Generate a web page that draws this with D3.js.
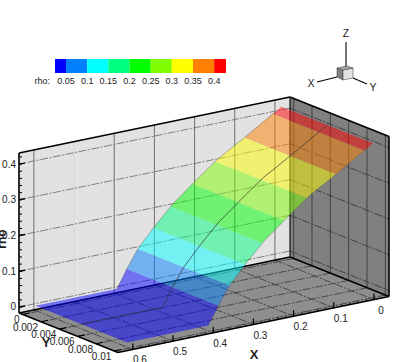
<!DOCTYPE html>
<html>
<head>
<meta charset="utf-8">
<script src="https://cdn.jsdelivr.net/npm/d3@7"></script>
<style>
  html, body { margin: 0; padding: 0; background: #fff; overflow: hidden; }
  text { font-family: "Liberation Sans", Arial, sans-serif; fill: #222; }
</style>
</head>
<body>
<div id="chart"></div>
<script>
// surface profile, rho does not change along y
const profileX = [-0.007, 0.01, 0.085, 0.152, 0.197, 0.264, 0.308, 0.351, 0.378, 0.39, 0.403, 0.5, 0.605];
const profileRho = [0.415, 0.403, 0.35, 0.305, 0.266, 0.205, 0.154, 0.099, 0.05, 0.025, 0, 0, 0];
const surfaceY = [0, 0.01];

const levels = [0, 0.05, 0.1, 0.15, 0.2, 0.25, 0.3, 0.35, 0.4, 0.45];
const levelColors = ["#0000ff", "#0080ff", "#00ffff", "#00ff80", "#00ff00", "#80ff00", "#ffff00", "#ff8000", "#ff0000"];
const legendTicks = [0.05, 0.1, 0.15, 0.2, 0.25, 0.3, 0.35, 0.4];

const xTicks = [0, 0.1, 0.2, 0.3, 0.4, 0.5, 0.6];
const yTicks = [0, 0.002, 0.004, 0.006, 0.008, 0.01];
const zTicks = [0, 0.1, 0.2, 0.3, 0.4];
const xMinorTicks = d3.range(0, 0.62, 0.02);
const zMinorTicks = d3.range(0, 0.43, 0.02);

const width = 407, height = 362;
const corner = {x: 290, y: 257};   // back corner of the floor
const xDomain = [-0.0375, 0.637], yDomain = [-0.0004, 0.0104], zDomain = [-0.0168, 0.431];
const gridDash = "8,1.5,2,1.5";

// three scales are enough, the view has almost no perspective
let xToLeft = d3.scaleLinear().domain(xDomain).range([0, -271]);
let xToDown = d3.scaleLinear().domain(xDomain).range([0, 56]);
let yToRight = d3.scaleLinear().domain(yDomain).range([0, 99]);
let yToDown = d3.scaleLinear().domain(yDomain).range([0, 39.5]);
let zToUp = d3.scaleLinear().domain(zDomain).range([0, -160]);

function project(x, y, z) {
    return [corner.x + xToLeft(x) + yToRight(y), corner.y + xToDown(x) + yToDown(y) + zToUp(z)];
}

let path3d = d3.line().x(d => d[0]).y(d => d[1]);

let svg = d3.select("#chart")
    .append("svg")
    .attr("width", width)
    .attr("height", height);

function face(pts, fill) {
    svg.append("path")
        .attr("d", path3d(pts.map(p => project(p[0], p[1], p[2]))) + "Z")
        .attr("fill", fill);
}

function segments(data, from, to, stroke, strokeWidth, dash) {
    svg.append("g")
        .selectAll("line")
        .data(data)
        .enter()
        .append("line")
        .attr("x1", d => from(d)[0])
        .attr("y1", d => from(d)[1])
        .attr("x2", d => to(d)[0])
        .attr("y2", d => to(d)[1])
        .attr("stroke", stroke)
        .attr("stroke-width", strokeWidth)
        .attr("stroke-dasharray", dash || null);
}

const [x0, x1] = xDomain, [y0, y1] = yDomain, [z0, z1] = zDomain;

// walls and floor
face([[x0, y0, z0], [x1, y0, z0], [x1, y0, z1], [x0, y0, z1]], "#e2e2e2");
face([[x0, y0, z0], [x0, y1, z0], [x0, y1, z1], [x0, y0, z1]], "#808080");
face([[x0, y0, z0], [x1, y0, z0], [x1, y1, z0], [x0, y1, z0]], "#8e8e8e");

// grid on the back wall
segments(xTicks.filter(d => d != 0.5), d => project(d, y0, z0), d => project(d, y0, z1), "#6e6e6e", 1);
segments([0.5], d => project(d, y0, z0), d => project(d, y0, z1), "#d6d6d6", 1);
segments(zTicks, d => project(x0, y0, d), d => project(x1, y0, d), "#808080", 1, gridDash);

// grid on the right wall
segments(yTicks, d => project(x0, d, z0), d => project(x0, d, z1), "#404040", 1);
segments(zTicks, d => project(x0, y0, d), d => project(x0, y1, d), "#404040", 1, gridDash);

// grid on the floor
segments(xTicks, d => project(d, y0, z0), d => project(d, y1, z0), "#4a4a4a", 1, gridDash);
segments(yTicks, d => project(x0, d, z0), d => project(x1, d, z0), "#4a4a4a", 1, gridDash);

// box edges behind the surface
let boxEdges = [
    [[x1, y0, z0], [x0, y0, z0]],
    [[x0, y0, z0], [x0, y1, z0]],
    [[x1, y0, z1], [x0, y0, z1]],
    [[x0, y0, z1], [x0, y1, z1]],
    [[x1, y0, z0], [x1, y0, z1]],
    [[x0, y1, z0], [x0, y1, z1]]
];
segments(boxEdges, d => project(...d[0]), d => project(...d[1]), "#000", 1.6);
segments([x0], d => project(d, y0, z0), d => project(d, y0, z1), "#111", 1.2);

// coloured bands of the surface
let rhoAt = d3.scaleLinear().domain(profileX).range(profileRho);
const footIndex = profileRho.indexOf(0);
let xOfRho = d3.scaleLinear()
    .domain(profileRho.slice(0, footIndex + 1))
    .range(profileX.slice(0, footIndex + 1));

function bandXs(lo, hi) {
    let xs = profileX.filter((x, i) => profileRho[i] >= lo && profileRho[i] <= hi);
    if (lo <= profileRho[0]) xs.push(xOfRho(lo));
    if (hi <= profileRho[0]) xs.push(xOfRho(hi));
    return Array.from(new Set(xs)).sort(d3.ascending);
}

let bands = levelColors.map((c, i) => ({color: c, xs: bandXs(levels[i], levels[i + 1])}));

svg.append("g")
    .selectAll("path")
    .data(bands)
    .enter()
    .append("path")
    .attr("d", d => {
        let front = d.xs.map(x => project(x, surfaceY[0], rhoAt(x)));
        let back = d.xs.slice().reverse().map(x => project(x, surfaceY[1], rhoAt(x)));
        return path3d(front.concat(back)) + "Z";
    })
    .attr("fill", d => d.color)
    .attr("fill-opacity", 0.5);

// thin mesh lines on the surface
[surfaceY[0], surfaceY[1]].forEach(y => {
    svg.append("path")
        .attr("d", path3d(profileX.slice(1, footIndex + 1).map(x => project(x, y, rhoAt(x)))))
        .attr("fill", "none")
        .attr("stroke", "#555")
        .attr("stroke-opacity", 0.6)
        .attr("stroke-width", 0.7);
});
svg.append("path")
    .attr("d", path3d(profileX.map(x => project(x, (surfaceY[0] + surfaceY[1]) / 2, rhoAt(x)))))
    .attr("fill", "none")
    .attr("stroke", "#333")
    .attr("stroke-width", 0.7);

// axis edges in front of it
let frontEdges = [
    [[x0, y1, z0], [x1, y1, z0]],
    [[x1, y0, z0], [x1, y1, z0]]
];
segments(frontEdges, d => project(...d[0]), d => project(...d[1]), "#000", 1.5);

// ticks, z on the left edge of the back wall
segments(zTicks, d => project(x1, y0, d), d => {
    let p = project(x1, y0, d);
    return [p[0] + 6, p[1] - 1];
}, "#000", 1.4);
segments(zMinorTicks, d => project(x1, y0, d), d => {
    let p = project(x1, y0, d);
    return [p[0] + 3, p[1]];
}, "#000", 1);

segments(xTicks, d => project(d, y1, z0), d => {
    let p = project(d, y1, z0);
    return [p[0], p[1] - 6];
}, "#000", 1.2);
segments(xMinorTicks, d => project(d, y1, z0), d => {
    let p = project(d, y1, z0);
    return [p[0], p[1] - 2];
}, "#000", 0.8);

segments(yTicks, d => project(x1, d, z0), d => {
    let p = project(x1, d, z0);
    return [p[0] + 7, p[1] - 1.5];
}, "#000", 1.2);

// tick labels
svg.append("g")
    .selectAll("text")
    .data(zTicks)
    .enter()
    .append("text")
    .attr("x", d => project(x1, y0, d)[0] - 3)
    .attr("y", d => project(x1, y0, d)[1] + 3.5)
    .attr("text-anchor", "end")
    .style("font-size", "10px")
    .text(d => d);

svg.append("g")
    .selectAll("text")
    .data(xTicks)
    .enter()
    .append("text")
    .attr("x", d => project(d, y1, z0)[0] + 7)
    .attr("y", d => project(d, y1, z0)[1] + 14)
    .attr("text-anchor", "middle")
    .style("font-size", "10px")
    .text(d => d);

svg.append("g")
    .selectAll("text")
    .data(yTicks)
    .enter()
    .append("text")
    .attr("x", d => project(x1, d, z0)[0] - 3)
    .attr("y", d => project(x1, d, z0)[1] + 9)
    .attr("text-anchor", "end")
    .style("font-size", "10px")
    .text(d => d);

// axis titles
svg.append("text")
    .attr("x", 254)
    .attr("y", 359)
    .attr("text-anchor", "middle")
    .style("font-size", "13px")
    .style("font-weight", "bold")
    .text("X");

svg.append("text")
    .attr("x", 46)
    .attr("y", 347)
    .attr("text-anchor", "middle")
    .style("font-size", "13px")
    .style("font-weight", "bold")
    .text("Y");

svg.append("text")
    .attr("transform", "translate(6, 239) rotate(-90)")
    .attr("text-anchor", "middle")
    .style("font-size", "12px")
    .style("font-weight", "bold")
    .text("rho");

// contour legend
let legendX = d3.scaleLinear().domain([0.024, 0.428]).range([55, 226]);
let legendBands = levelColors.map((c, i) => ({
    color: c,
    lo: Math.max(levels[i], legendX.domain()[0]),
    hi: Math.min(levels[i + 1], legendX.domain()[1])
}));

svg.append("g")
    .selectAll("rect")
    .data(legendBands)
    .enter()
    .append("rect")
    .attr("x", d => legendX(d.lo))
    .attr("y", 59)
    .attr("width", d => legendX(d.hi) - legendX(d.lo))
    .attr("height", 14)
    .attr("fill", d => d.color);

svg.append("g")
    .selectAll("text")
    .data(legendTicks)
    .enter()
    .append("text")
    .attr("x", d => legendX(d))
    .attr("y", 84)
    .attr("text-anchor", "middle")
    .style("font-size", "9px")
    .text(d => d);

svg.append("text")
    .attr("x", 50)
    .attr("y", 84)
    .attr("text-anchor", "end")
    .style("font-size", "9px")
    .text("rho:");

// orientation triad, top right
let triad = svg.append("g");
let triadLines = [
    [[346, 67], [346, 42]],
    [[337, 77], [317, 82]],
    [[353, 78], [367, 84]]
];
triadLines.forEach(d => {
    triad.append("path")
        .attr("d", path3d(d))
        .attr("stroke", "#000")
        .attr("stroke-width", 1.1)
        .attr("fill", "none");
});
let triadFaces = [
    {pts: [[343, 80], [337, 77], [337, 68], [343, 70]], fill: "#808080"},
    {pts: [[343, 80], [353, 78], [353, 68], [343, 70]], fill: "#e2e2e2"},
    {pts: [[343, 70], [337, 68], [347, 66], [353, 68]], fill: "#a8a8a8"}
];
triadFaces.forEach(d => {
    triad.append("path")
        .attr("d", path3d(d.pts) + "Z")
        .attr("fill", d.fill)
        .attr("stroke", "#333")
        .attr("stroke-width", 0.5);
});
let triadLabels = [["Z", 346, 37], ["X", 311, 87], ["Y", 373, 91]];
triadLabels.forEach(d => {
    triad.append("text")
        .attr("x", d[1])
        .attr("y", d[2])
        .attr("text-anchor", "middle")
        .style("font-size", "10.5px")
        .text(d[0]);
});
</script>
</body>
</html>
